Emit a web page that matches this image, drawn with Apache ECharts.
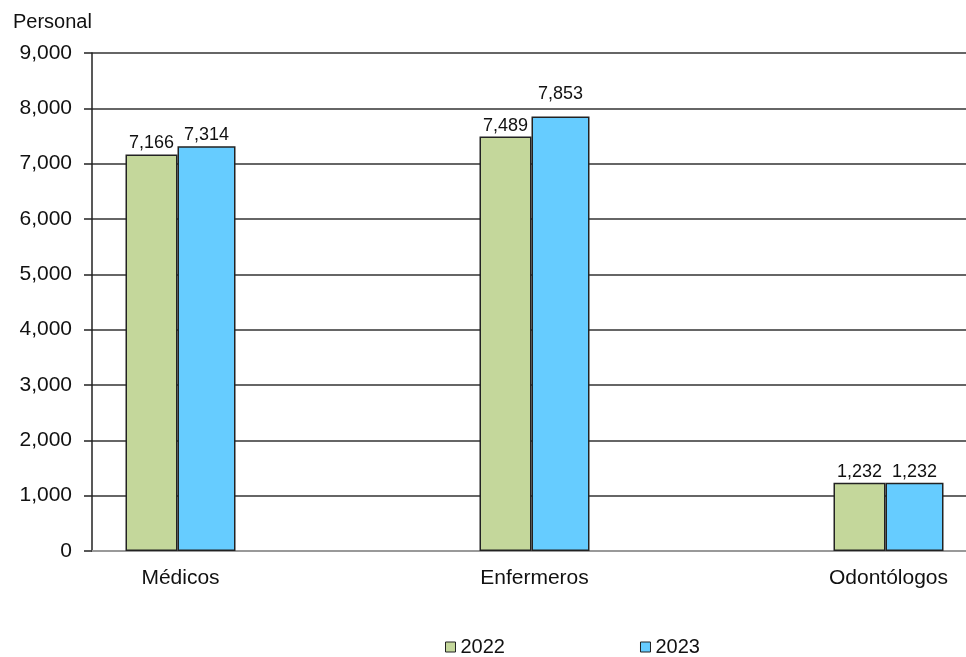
<!DOCTYPE html>
<html>
<head>
<meta charset="utf-8">
<script src="https://cdn.jsdelivr.net/npm/echarts@6/dist/echarts.min.js"></script>
<style>html,body{margin:0;padding:0;background:#fff}#c{width:966px;height:657px}</style>
</head>
<body>
<div id="c"></div>
<script>
const categories = ['Médicos', 'Enfermeros', 'Odontólogos'];
const seriesNames = ['2022', '2023'];
const values2022 = [7166, 7489, 1232];
const values2023 = [7314, 7853, 1232];
const yTicks = [0, 1000, 2000, 3000, 4000, 5000, 6000, 7000, 8000, 9000];

const font = 'Liberation Sans, Arial, sans-serif';
const fmt = v => Number(v).toLocaleString('en-US');
// label lifted above a gridline, as in the reference (Enfermeros 2023)
const toPoints = (arr, lifted) => arr.map((v, i) =>
  i === lifted ? {value: [i, v], label: {distance: 13}} : [i, v]);

const chart = echarts.init(document.getElementById('c'), null, {renderer: 'canvas'});
chart.setOption({
  animation: false,
  backgroundColor: '#fff',
  textStyle: {fontFamily: font, color: '#111'},
  title: {
    text: 'Personal', left: 8, top: 7,
    textStyle: {fontFamily: font, fontSize: 20, fontWeight: 'normal', color: '#111'}
  },
  grid: {left: 92, right: -11, top: 53, bottom: 106, containLabel: false, outerBoundsMode: 'none'},
  legend: {
    data: seriesNames, top: 632, left: 440,
    icon: 'rect', itemWidth: 10, itemHeight: 10, itemGap: 135,
    itemStyle: {borderColor: '#222', borderWidth: 1},
    textStyle: {fontFamily: font, fontSize: 20, color: '#111'}
  },
  xAxis: {
    type: 'value', min: -0.25, max: 2.25, interval: 0.25,
    splitLine: {show: false},
    axisTick: {show: false},
    axisLine: {show: true, lineStyle: {color: '#999', width: 2}},
    axisLabel: {
      margin: 17, fontSize: 21, color: '#111', fontFamily: font, hideOverlap: false,
      formatter: v => {
        const r = Math.round(v);
        return Math.abs(v - r) < 1e-6 && categories[r] !== undefined ? categories[r] : '';
      }
    }
  },
  yAxis: {
    type: 'value', min: yTicks[0], max: yTicks[yTicks.length - 1], interval: 1000,
    axisLine: {show: true, onZero: false, lineStyle: {color: '#222', width: 1.5}},
    axisTick: {show: true, length: 8, lineStyle: {color: '#222', width: 1.5}},
    splitLine: {show: true, lineStyle: {color: '#333', width: 1.5}},
    axisLabel: {margin: 20, fontSize: 21, color: '#111', fontFamily: font, formatter: fmt}
  },
  series: [
    {
      name: seriesNames[0], type: 'bar', data: toPoints(values2022, -1),
      barWidth: 52, barGap: '0%',
      itemStyle: {color: '#C4D79B', borderColor: '#222', borderWidth: 1.5},
      label: {show: true, position: 'top', distance: 2, fontSize: 18, color: '#111', fontFamily: font,
        formatter: p => fmt(p.value[1])}
    },
    {
      name: seriesNames[1], type: 'bar', data: toPoints(values2023, 1),
      barWidth: 58, barGap: '0%',
      itemStyle: {color: '#66CCFF', borderColor: '#222', borderWidth: 1.5},
      label: {show: true, position: 'top', distance: 2, fontSize: 18, color: '#111', fontFamily: font,
        formatter: p => fmt(p.value[1])}
    }
  ]
});
</script>
</body>
</html>
